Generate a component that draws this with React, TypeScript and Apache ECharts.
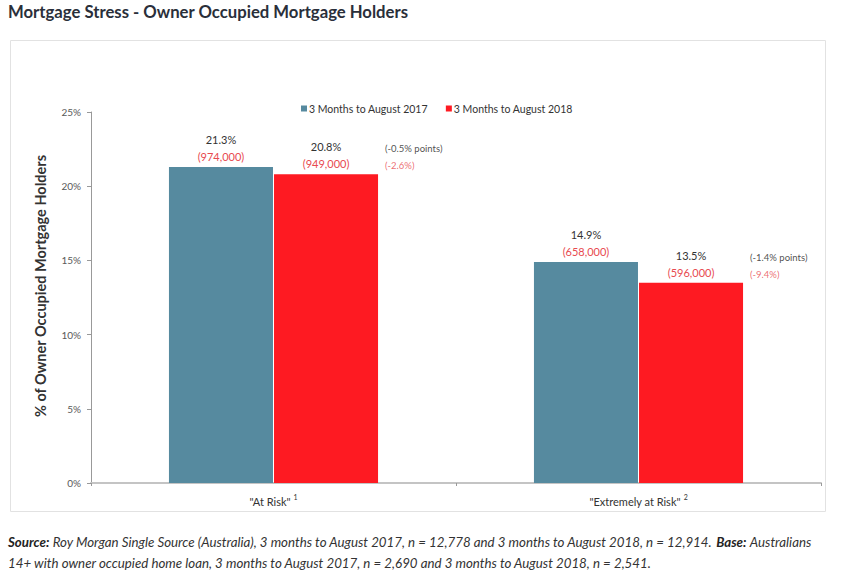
import React, { useEffect, useRef } from "react";
import * as echarts from "echarts";

const categories = ['"At Risk"', '"Extremely at Risk"'];
const footnotes = ["1", "2"];
const seriesNames = ["3 Months to August 2017", "3 Months to August 2018"];
const pct2017 = [21.3, 14.9];
const pct2018 = [20.8, 13.5];
const count2017 = ["974,000", "658,000"];
const count2018 = ["949,000", "596,000"];
const changePoints = ["-0.5% points", "-1.4% points"];
const changePercent = ["-2.6%", "-9.4%"];
const yTicks = [0, 5, 10, 15, 20, 25];
const yAxisTitle = "% of Owner Occupied Mortgage Holders";

const BLUE = "#568a9f";
const RED = "#fe1a22";
const LABEL_RED = "#e84a50";
const FONT = "Lato, 'Noto Sans', sans-serif";

export default function App() {
  const ref = useRef<HTMLDivElement>(null);
  useEffect(() => {
    document.body.style.margin = "0";
    const chart = echarts.init(ref.current!, null, { renderer: "svg" });
    const labelRich = {
      p: { color: "#333", fontSize: 11, fontFamily: FONT, lineHeight: 17 },
      c: { color: LABEL_RED, fontSize: 11, fontFamily: FONT, lineHeight: 17 },
    };
    chart.setOption({
      animation: false,
      backgroundColor: "#fff",
      textStyle: { fontFamily: FONT },
      graphic: [
        {
          type: "text",
          left: 8,
          top: 3,
          style: {
            text: "Mortgage Stress - Owner Occupied Mortgage Holders",
            font: "bold 16.7px Lato, sans-serif",
            fill: "#2a2f3a",
          },
        },
        {
          type: "rect",
          shape: { x: 10.5, y: 40.5, width: 815, height: 471 },
          style: { fill: "none", stroke: "#e2e2e2", lineWidth: 1 },
          silent: true,
        },
        {
          type: "text",
          x: 40,
          y: 286,
          rotation: Math.PI / 2,
          style: {
            text: yAxisTitle,
            font: "bold 14.5px Lato, sans-serif",
            fill: "#333",
            align: "center",
            verticalAlign: "middle",
          },
        },
        {
          type: "text",
          left: 8,
          top: 535,
          style: {
            text:
              "{b|Source:} {i|Roy Morgan Single Source (Australia), 3 months to August 2017, n = 12,778 and 3 months to August 2018, n = 12,914.} {b|Base:} {i|Australians}\n{i|14+ with owner occupied home loan, 3 months to August 2017, n = 2,690 and 3 months to August 2018, n = 2,541.}",
            rich: {
              b: { font: "italic bold 13.3px Lato, sans-serif", fill: "#222", lineHeight: 21 },
              i: { font: "italic 13.3px Lato, sans-serif", fill: "#333", lineHeight: 21 },
            },
          },
        },
      ],
      legend: {
        top: 98,
        left: 296,
        data: seriesNames,
        icon: "rect",
        itemWidth: 6,
        itemHeight: 6,
        itemGap: 18,
        textStyle: { fontSize: 10.5, color: "#333", fontFamily: FONT, padding: [0, 0, 0, -3] },
      },
      grid: { left: 91, right: 20, top: 112, bottom: 97, containLabel: false },
      xAxis: {
        type: "category",
        data: categories,
        axisLine: { lineStyle: { color: "#c4c4c4", width: 2 } },
        axisTick: { show: true, length: 3, lineStyle: { color: "#999" } },
        axisLabel: {
          margin: 10,
          formatter: (v: string, i: number) => `{n|${v}}{s|${footnotes[i]}}`,
          rich: {
            n: { fontSize: 11, color: "#333", fontFamily: FONT },
            s: { fontSize: 7, color: "#333", fontFamily: FONT, padding: [0, 0, 10, 3] },
          },
        },
      },
      yAxis: {
        type: "value",
        min: 0,
        max: 25,
        interval: 5,
        axisLine: { show: true, lineStyle: { color: "#999" } },
        axisTick: { show: true, length: 4, lineStyle: { color: "#999" } },
        splitLine: { show: false },
        axisLabel: {
          fontSize: 10,
          color: "#595959",
          margin: 10,
          formatter: (v: number) => (yTicks.includes(v) ? `${v}%` : ""),
        },
      },
      series: [
        {
          name: seriesNames[0],
          type: "bar",
          data: pct2017,
          barWidth: "28.5%",
          barGap: "1%",
          itemStyle: { color: BLUE },
          label: {
            show: true,
            position: "top",
            distance: 2,
            formatter: (p: any) => `{p|${p.value}%}\n{c|(${count2017[p.dataIndex]})}`,
            rich: labelRich,
          },
        },
        {
          name: seriesNames[1],
          type: "bar",
          data: pct2018,
          barWidth: "28.5%",
          barGap: "1%",
          itemStyle: { color: RED },
          label: {
            show: true,
            position: "top",
            distance: 2,
            formatter: (p: any) => `{p|${p.value}%}\n{c|(${count2018[p.dataIndex]})}`,
            rich: labelRich,
          },
        },
        {
          name: "change",
          type: "scatter",
          data: pct2018.map((v, i) => [i, v]),
          symbolSize: 1,
          itemStyle: { color: "rgba(0,0,0,0)" },
          silent: true,
          label: {
            show: true,
            position: "right",
            distance: 0,
            offset: [111, -17],
            align: "left",
            formatter: (p: any) =>
              `{p|(${changePoints[p.dataIndex]})}\n{c|(${changePercent[p.dataIndex]})}`,
            rich: {
              p: { color: "#222", fontSize: 9.5, fontFamily: FONT, lineHeight: 17 },
              c: { color: LABEL_RED, fontSize: 9.5, fontFamily: FONT, lineHeight: 17 },
            },
          },
        },
      ],
    });
    return () => chart.dispose();
  }, []);
  return <div ref={ref} style={{ width: 841, height: 580 }} />;
}
